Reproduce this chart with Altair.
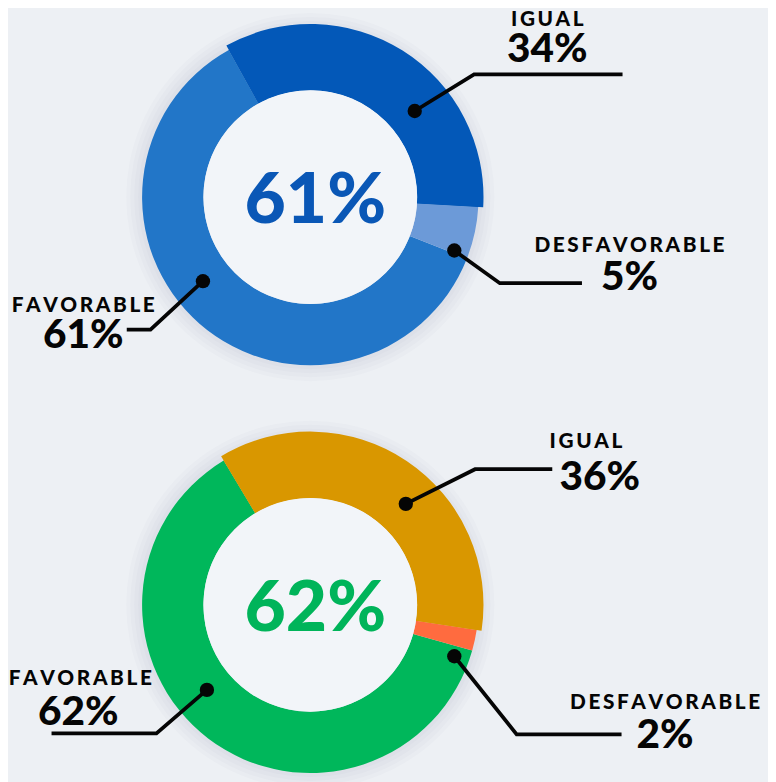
import math
import altair as alt
import pandas as pd

# ---------------- data ----------------
categories = ["FAVORABLE", "IGUAL", "DESFAVORABLE"]
values_top = [61, 34, 5]
values_bottom = [62, 36, 2]
center_label_top = "61%"
center_label_bottom = "62%"

# ---------------- styles / layout ----------------
colors_top = ["#2276C8", "#0358B8", "#6C9AD8"]
colors_bottom = ["#00B75B", "#D99700", "#FF6B3F"]
center_color_top = "#0A57B6"
center_color_bottom = "#00B45A"
BG = "#EDF0F4"
INNER = "#F2F5F9"
FONT = "Lato"

W, H = 768, 774
xs = alt.Scale(domain=[8, 776])
ys = alt.Scale(domain=[8, 782], reverse=True)
R_IN, R_OUT, R_OUT_IGUAL = 108, 170, 175
clockwise = ["IGUAL", "DESFAVORABLE", "FAVORABLE"]


def X(f):
    return alt.X(f, type="quantitative", scale=xs, axis=None)


def Y(f):
    return alt.Y(f, type="quantitative", scale=ys, axis=None)


def spaced(s):
    return "\u2009".join(list(s))


donuts = [
    dict(values=values_top, colors=colors_top, cx=313.5, cy=195, start=-29,
         center=center_label_top, ccolor=center_color_top,
         annots={
             "IGUAL": dict(line=[(419, 108), (479, 71), (629, 71)], name=(553, 16), val=(553, 46)),
             "DESFAVORABLE": dict(line=[(459, 249), (505, 282), (588, 282)], name=(636, 244), val=(636, 277)),
             "FAVORABLE": dict(line=[(205, 280), (152, 329), (128, 329)], name=(84, 305), val=(84, 336)),
         }),
    dict(values=values_bottom, colors=colors_bottom, cx=313.5, cy=607, start=-31,
         center=center_label_bottom, ccolor=center_color_bottom,
         annots={
             "IGUAL": dict(line=[(410, 505), (480, 470), (558, 470)], name=(592, 443), val=(606, 479)),
             "DESFAVORABLE": dict(line=[(459, 659), (522, 738), (628, 738)], name=(672, 706), val=(672, 740)),
             "FAVORABLE": dict(line=[(209, 693), (158, 737), (52, 737)], name=(81, 682), val=(79, 716)),
         }),
]


def donut_layers(d):
    cx, cy = d["cx"], d["cy"]
    pos = pd.DataFrame({"x": [cx], "y": [cy]})
    layers = []
    # soft shadow
    for r in [186, 182, 178, 174]:
        layers.append(
            alt.Chart(pos).mark_arc(theta=0, theta2=2 * math.pi, radius=r, color="#4a5670", opacity=0.025)
            .encode(x=X("x"), y=Y("y"))
        )
    df = pd.DataFrame({"cat": categories, "value": d["values"]})
    df["ord"] = [clockwise.index(c) for c in categories]
    df["x"] = cx
    df["y"] = cy
    start = math.radians(d["start"])
    theta = alt.Theta("value:Q", stack=True, scale=alt.Scale(range=[start, start + 2 * math.pi]))
    color = alt.Color("cat:N", scale=alt.Scale(domain=categories, range=d["colors"]), legend=None)
    layers.append(
        alt.Chart(df).mark_arc(innerRadius=R_IN, radius=R_OUT).encode(
            x=X("x"), y=Y("y"), theta=theta, order=alt.Order("ord:Q"), color=color)
    )
    layers.append(
        alt.Chart(df).mark_arc(innerRadius=R_IN, radius=R_OUT_IGUAL).encode(
            x=X("x"), y=Y("y"), theta=theta, order=alt.Order("ord:Q"), color=color,
            opacity=alt.condition("datum.cat == 'IGUAL'", alt.value(1), alt.value(0)))
    )
    # inner disc
    layers.append(
        alt.Chart(pos).mark_arc(theta=0, theta2=2 * math.pi, radius=R_IN, color=INNER)
        .encode(x=X("x"), y=Y("y"))
    )
    # center label
    cdf = pd.DataFrame({"x": [cx + 5], "y": [cy + 4], "t": [d["center"]]})
    layers.append(
        alt.Chart(cdf).mark_text(font=FONT, fontSize=72, fontWeight=900, color=d["ccolor"],
                                 align="center", baseline="middle")
        .encode(x=X("x"), y=Y("y"), text="t:N")
    )
    # leader lines, dots and labels
    rows, dots, names, vals = [], [], [], []
    for i, cat in enumerate(categories):
        a = d["annots"][cat]
        for j, (px, py) in enumerate(a["line"]):
            rows.append({"id": cat, "ord": j, "x": px, "y": py})
        dots.append({"x": a["line"][0][0], "y": a["line"][0][1]})
        names.append({"x": a["name"][0], "y": a["name"][1], "t": spaced(cat)})
        vals.append({"x": a["val"][0], "y": a["val"][1], "t": f"{d['values'][i]}%"})
    layers.append(
        alt.Chart(pd.DataFrame(rows)).mark_line(color="#050505", strokeWidth=3.8, strokeJoin="miter")
        .encode(x=X("x"), y=Y("y"), detail="id:N", order="ord:Q")
    )
    layers.append(
        alt.Chart(pd.DataFrame(dots)).mark_circle(color="#050505", opacity=1, size=210)
        .encode(x=X("x"), y=Y("y"))
    )
    layers.append(
        alt.Chart(pd.DataFrame(names)).mark_text(font=FONT, fontSize=21, fontWeight=900, color="#050505",
                                                 align="center", baseline="middle")
        .encode(x=X("x"), y=Y("y"), text="t:N")
    )
    layers.append(
        alt.Chart(pd.DataFrame(vals)).mark_text(font=FONT, fontSize=41, fontWeight=900, color="#050505",
                                                align="center", baseline="middle")
        .encode(x=X("x"), y=Y("y"), text="t:N")
    )
    return layers


all_layers = donut_layers(donuts[0]) + donut_layers(donuts[1])

chart = (
    alt.layer(*all_layers)
    .resolve_scale(theta="independent", color="independent")
    .properties(width=W, height=H, background=BG, padding=0, autosize="none")
    .configure_view(strokeWidth=0)
)

chart.save("out.html", embed_options={"renderer": "svg", "actions": False})
